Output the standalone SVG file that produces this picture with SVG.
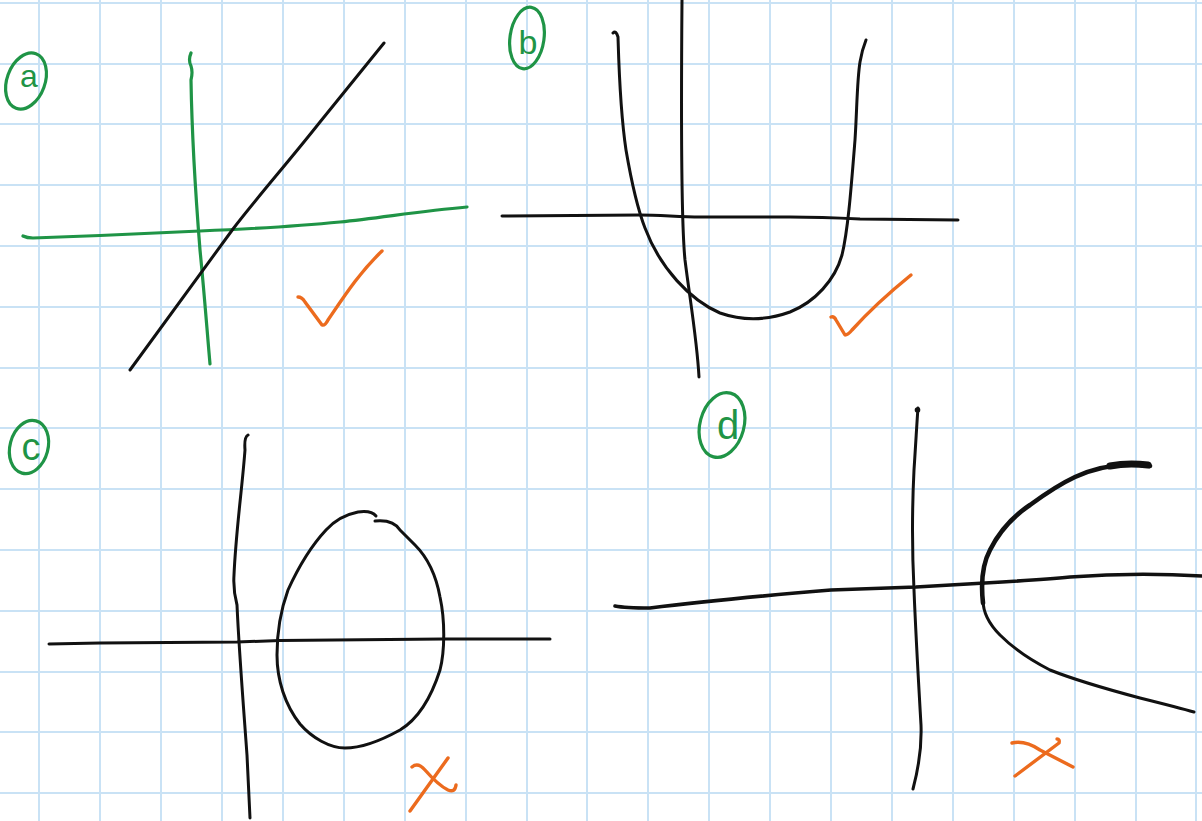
<svg xmlns="http://www.w3.org/2000/svg" width="1202" height="821" viewBox="0 0 1202 821">
<style>
.grid{stroke:#c9e2f5;stroke-width:2;fill:none}
.ink{fill:none;stroke:#111;stroke-width:3;stroke-linecap:round;stroke-linejoin:round}
.g{fill:none;stroke:#1f9446;stroke-width:3.2;stroke-linecap:round;stroke-linejoin:round}
.o{fill:none;stroke:#ec6b1e;stroke-width:3.4;stroke-linecap:round;stroke-linejoin:round}
.lbl{font-family:"Liberation Sans",Arial,sans-serif;fill:#1f9446;text-anchor:middle}
</style>
<rect width="1202" height="821" fill="#ffffff"/>
<g id="grid">
<path class="grid" d="M39,0V821M100,0V821M161,0V821M222,0V821M283,0V821M344,0V821M405,0V821M466,0V821M527,0V821M587,0V821M648,0V821M709,0V821M770,0V821M831,0V821M892,0V821M953,0V821M1014,0V821M1075,0V821M1136,0V821M1196,0V821"/>
<path class="grid" d="M0,3H1202M0,64H1202M0,124H1202M0,185H1202M0,246H1202M0,307H1202M0,368H1202M0,428H1202M0,489H1202M0,550H1202M0,611H1202M0,672H1202M0,732H1202M0,793H1202"/>
</g>
<g id="panel-a">
<g id="label-a">
<ellipse class="g" cx="26" cy="81" rx="19" ry="29" transform="rotate(20 26 81)"/>
<text class="lbl" x="29" y="87" font-size="32">a</text>
</g>
<path class="g" d="M191,53 Q188,60 191,66 Q193,72 191,80 C192,140 196,200 200,250 C204,290 207,330 210,364"/>
<path class="g" d="M23,236 Q27,238 33,238 L100,235.5 L200,231 C270,228 320,224 340,222 C380,218 420,211 467,207"/>
<path class="ink" d="M384,43 L320,122 C290,160 255,200 233,229 L130,370"/>
<path class="o" d="M298,297 Q302,297 305,302 L322,325 Q325,326 328,320 C345,295 360,272 382,251"/>
</g>
<g id="panel-b">
<g id="label-b">
<ellipse class="g" cx="527" cy="38" rx="17" ry="31" transform="rotate(8 527 38)"/>
<text class="lbl" x="528" y="54" font-size="34">b</text>
</g>
<path class="ink" d="M682,0 C681,120 681,220 685,260 C690,300 697,340 699,377"/>
<path class="ink" d="M502,216 L640,215 C660,215 680,217 700,217 L790,217 C820,217 840,218 860,219 L958,220"/>
<path class="ink" d="M613,33 Q616,30 618,37 C619,70 620,110 626,150 C632,185 638,210 645,228 C660,268 690,300 720,313 C740,320 765,321 790,312 C815,302 835,280 842,255 C848,230 851,190 855,140 C857,110 857,80 860,62 C862,50 864,45 866,40"/>
<path class="o" d="M831,317 Q834,316 836,320 L845,335 Q848,335 852,330 C870,310 890,292 911,275"/>
</g>
<g id="panel-c">
<g id="label-c">
<ellipse class="g" cx="29" cy="447" rx="19" ry="27" transform="rotate(15 29 447)"/>
<text class="lbl" x="31" y="460" font-size="38">c</text>
</g>
<path class="ink" d="M248,435 Q244,437 245,450 C242,490 236,530 234,575 Q233,590 237,605 C239,650 243,700 247,755 L250,818"/>
<path class="ink" d="M49,644 L100,643 L237,642 L280,640.5 L443,639 L550,639"/>
<path class="ink" d="M376,516 C372,511 365,511 358,512 C348,514 335,520 326,530 C312,545 298,568 288,590 C280,612 277,635 277,655 C277,680 285,705 300,724 C312,738 330,748 345,748 C362,748 382,740 400,730 C420,718 432,695 440,670 C445,650 445,620 440,597 C436,575 428,558 415,545 Q405,535 400,530 C395,522 385,520 375,521"/>
<path class="o" d="M412,767 Q418,762 425,770 C432,778 440,786 448,790 Q455,793 456,785"/>
<path class="o" d="M448,758 L410,811"/>
</g>
<g id="panel-d">
<g id="label-d">
<ellipse class="g" cx="722" cy="425" rx="22" ry="33" transform="rotate(15 722 425)"/>
<text class="lbl" x="728" y="439" font-size="40">d</text>
</g>
<path class="ink" d="M918,408 C917,420 916,440 914,470 C912,510 912,550 914,590 C916,640 919,690 921,725 C922,750 918,770 913,789"/>
<circle cx="917.5" cy="410" r="2.8" fill="#111"/>
<path class="ink" style="stroke-width:3.6" d="M615,606 Q625,608 650,608 C690,603 760,596 831,590 L916,587 L985,583 C1020,581 1050,579 1070,577 C1110,574 1150,573 1202,576"/>
<path class="ink" style="stroke-width:4.6" d="M983,603 C981,585 982,565 990,550 C1000,530 1015,515 1030,505 C1045,494 1060,484 1075,477 C1092,469 1110,465 1132,464 L1150,466"/>
<path class="ink" style="stroke-width:7" d="M1110,466 C1120,464 1132,463 1148,465"/>
<path class="ink" d="M983,600 C983,612 990,625 1000,635 C1015,650 1030,660 1050,670 C1080,682 1110,690 1140,698 C1160,703 1180,708 1194,712"/>
<path class="o" d="M1012,743 Q1025,740 1040,750 L1073,767"/>
<path class="o" d="M1057,739 Q1060,739 1059,743 L1015,776"/>
</g>
</svg>
